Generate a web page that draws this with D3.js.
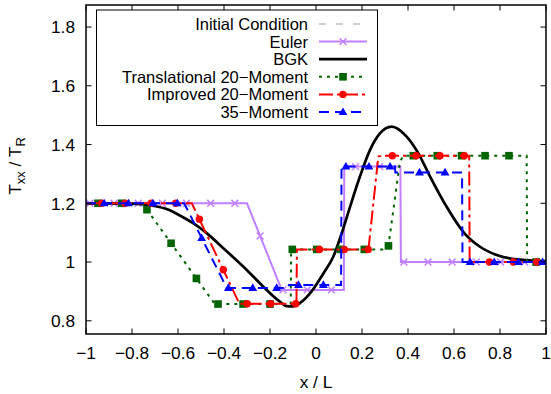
<!DOCTYPE html>
<html><head><meta charset="utf-8">
<script src="https://cdn.jsdelivr.net/npm/d3@7"></script>
<style>
html,body{margin:0;padding:0;background:#fff;}
svg{display:block;font-family:"Liberation Sans",Arial,sans-serif;}
</style></head>
<body><svg id="c" width="551" height="394"></svg>
<script>
// ---- data ----
const xTicks = [-1,-0.8,-0.6,-0.4,-0.2,0,0.2,0.4,0.6,0.8,1];
const xTickLabels = ["\u22121","\u22120.8","\u22120.6","\u22120.4","\u22120.2","0","0.2","0.4","0.6","0.8","1"];
const yTicks = [0.8,1,1.2,1.4,1.6,1.8];
const yTickLabels = ["0.8","1","1.2","1.4","1.6","1.8"];
const seriesNames = ["Initial Condition","Euler","BGK","Translational 20\u2212Moment","Improved 20\u2212Moment","35\u2212Moment"];

// initial condition: not visible inside the plot window of the reference
const initX = [];
const initY = [];

const eulerX = [-1,-0.30,-0.149,0.121,0.123,0.367,0.369,1];
const eulerY = [1.2,1.2,0.905,0.905,1.325,1.325,1.0,1.0];
const eulerMarkX = [-0.983,-0.878,-0.773,-0.668,-0.563,-0.458,-0.353,-0.243,-0.143,-0.038,0.067,0.172,0.277,0.382,0.487,0.592,0.697,0.802,0.907];

const bgkX = [-1,-0.9,-0.8,-0.72,-0.638,-0.591,-0.536,-0.478,-0.403,-0.301,-0.229,-0.157,-0.128,-0.1,-0.07,-0.026,0.032,0.075,0.112,0.148,0.191,0.235,0.278,0.329,0.394,0.445,0.496,0.568,0.64,0.713,0.786,0.873,1];
const bgkY = [1.2,1.2,1.199,1.193,1.177,1.158,1.133,1.1,1.047,0.973,0.916,0.865,0.85,0.849,0.86,0.893,0.961,1.018,1.098,1.188,1.291,1.382,1.438,1.461,1.427,1.37,1.291,1.188,1.103,1.052,1.024,1.009,1.003];

const t20X = [-1,-0.755,-0.44,-0.11,-0.108,0.29,0.315,0.365,0.38,0.916,0.918,1];
const t20Y = [1.2,1.2,0.857,0.857,1.043,1.043,1.055,1.342,1.362,1.362,1.0,1.0];
const t20MarkX = [-0.948,-0.845,-0.735,-0.63,-0.52,-0.426,-0.317,-0.2,-0.103,0.003,0.107,0.21,0.315,0.423,0.527,0.633,0.735,0.839,0.957];

const i20X = [-1,-0.54,-0.333,-0.085,-0.083,0.228,0.271,0.285,0.666,0.668,1];
const i20Y = [1.2,1.2,0.858,0.858,1.043,1.043,1.359,1.362,1.362,1.0,1.0];
const i20MarkX = [-0.932,-0.83,-0.717,-0.61,-0.507,-0.403,-0.299,-0.197,-0.088,0.015,0.123,0.227,0.332,0.435,0.539,0.645,0.754,0.858,0.96];

const m35X = [-1,-0.573,-0.388,-0.12,-0.118,0.109,0.111,0.343,0.345,0.635,0.637,1];
const m35Y = [1.2,1.2,0.912,0.912,0.922,0.922,1.325,1.325,1.305,1.305,1.0,1.0];
const m35MarkX = [-0.921,-0.815,-0.709,-0.603,-0.497,-0.381,-0.275,-0.171,-0.076,0.032,0.13,0.23,0.322,0.45,0.561,0.67,0.775,0.88,0.985];

// ---- layout ----
const W = 551, H = 394;
const m = {left:86, right:5, top:5, bottom:60};
const svg = d3.select("#c");
const x = d3.scaleLinear().domain([-1,1]).range([m.left, W-m.right]);
const y = d3.scaleLinear().domain([0.755,1.875]).range([H-m.bottom, m.top]);
const FS = 17.3;
const LFS = 16.5;

const zip = (a,b)=>a.map((v,i)=>[v,b[i]]);
function interp(xs, ys, xv){
  for(let i=0;i<xs.length-1;i++){
    if(xv>=xs[i] && xv<=xs[i+1]){
      const t = xs[i+1]===xs[i]?0:(xv-xs[i])/(xs[i+1]-xs[i]);
      return ys[i]+t*(ys[i+1]-ys[i]);
    }
  }
  return ys[ys.length-1];
}

const styles = [
  {name:seriesNames[0], xs:initX, ys:initY, color:"#c0c0c0", w:1.6, dash:"7,10", marker:null},
  {name:seriesNames[1], xs:eulerX, ys:eulerY, color:"#c080ff", w:2, dash:null, marker:"x", mx:eulerMarkX},
  {name:seriesNames[2], xs:bgkX, ys:bgkY, color:"#000000", w:2.7, dash:null, marker:null, smooth:true},
  {name:seriesNames[3], xs:t20X, ys:t20Y, color:"#006400", w:2, dash:"3,5", marker:"square", mx:t20MarkX},
  {name:seriesNames[4], xs:i20X, ys:i20Y, color:"#ff0000", w:2, dash:"14,4,3,4", marker:"circle", mx:i20MarkX},
  {name:seriesNames[5], xs:m35X, ys:m35Y, color:"#0000ff", w:2, dash:"10,6", marker:"triangle", mx:m35MarkX}
];

svg.append("clipPath").attr("id","pc").append("rect")
  .attr("x",m.left).attr("y",m.top).attr("width",W-m.left-m.right).attr("height",H-m.top-m.bottom);

function drawMarker(g, type, cx, cy, color){
  if(type==="x"){
    const s=3.4;
    g.append("path").attr("d",`M${cx-s},${cy-s}L${cx+s},${cy+s}M${cx-s},${cy+s}L${cx+s},${cy-s}`)
      .attr("stroke",color).attr("stroke-width",1.5).attr("fill","none");
  } else if(type==="square"){
    g.append("rect").attr("x",cx-3.8).attr("y",cy-3.8).attr("width",7.6).attr("height",7.6).attr("fill",color);
  } else if(type==="circle"){
    g.append("circle").attr("cx",cx).attr("cy",cy).attr("r",3.7).attr("fill",color);
  } else if(type==="triangle"){
    g.append("path").attr("d",d3.symbol().type(d3.symbolTriangle).size(34)()).attr("transform",`translate(${cx},${cy+0.5})`).attr("fill",color);
  }
}

const plotG = svg.append("g").attr("clip-path","url(#pc)");
styles.forEach(s=>{
  if(!s.xs.length) return;
  const line = d3.line().x(d=>x(d[0])).y(d=>y(d[1]));
  if(s.smooth) line.curve(d3.curveMonotoneX);
  const g = plotG.append("g");
  g.append("path").datum(zip(s.xs,s.ys)).attr("d",line).attr("fill","none")
    .attr("stroke",s.color).attr("stroke-width",s.w).attr("stroke-dasharray",s.dash)
    .attr("stroke-linejoin","miter");
  if(s.marker){
    s.mx.forEach(xv=>drawMarker(g, s.marker, x(xv), y(interp(s.xs,s.ys,xv)), s.color));
  }
});

// frame + ticks
const tl = 5.5;
const axG = svg.append("g").attr("stroke","#000").attr("stroke-width",1);
xTicks.forEach(t=>{
  axG.append("line").attr("x1",x(t)).attr("x2",x(t)).attr("y1",H-m.bottom).attr("y2",H-m.bottom-tl);
  axG.append("line").attr("x1",x(t)).attr("x2",x(t)).attr("y1",m.top).attr("y2",m.top+tl);
});
yTicks.forEach(t=>{
  axG.append("line").attr("x1",m.left).attr("x2",m.left+tl).attr("y1",y(t)).attr("y2",y(t));
  axG.append("line").attr("x1",W-m.right).attr("x2",W-m.right-tl).attr("y1",y(t)).attr("y2",y(t));
});
svg.append("rect").attr("x",m.left).attr("y",m.top).attr("width",W-m.left-m.right).attr("height",H-m.top-m.bottom)
  .attr("fill","none").attr("stroke","#000").attr("stroke-width",1.5);

// tick labels
svg.append("g").selectAll("text").data(xTicks).join("text")
  .attr("x",d=>x(d)).attr("y",359).attr("text-anchor","middle").attr("font-size",FS)
  .text((d,i)=>xTickLabels[i]);
svg.append("g").selectAll("text").data(yTicks).join("text")
  .attr("x",75).attr("y",d=>y(d)).attr("dy","0.36em").attr("text-anchor","end").attr("font-size",FS)
  .text((d,i)=>yTickLabels[i]);

// axis titles
svg.append("text").attr("x",x(0)).attr("y",388).attr("text-anchor","middle").attr("font-size",FS).text("x / L");
const yl = svg.append("text").attr("transform","translate(21,166) rotate(-90)").attr("text-anchor","middle").attr("font-size",FS);
yl.append("tspan").text("T");
yl.append("tspan").attr("font-size",FS*0.75).attr("dy",4).text("xx");
yl.append("tspan").attr("dy",-4).text(" / T");
yl.append("tspan").attr("font-size",FS*0.75).attr("dy",4).text("R");

// legend
const lg = svg.append("g");
lg.append("rect").attr("x",96.5).attr("y",10).attr("width",281).attr("height",115.5)
  .attr("fill","#fff").attr("stroke","#000").attr("stroke-width",1);
styles.forEach((s,i)=>{
  const cy = 24 + i*17.6;
  lg.append("text").attr("x",308).attr("y",cy).attr("dy","0.36em").attr("text-anchor","end").attr("font-size",LFS).text(s.name);
  lg.append("line").attr("x1",319).attr("x2",367).attr("y1",cy).attr("y2",cy)
    .attr("stroke",s.color).attr("stroke-width",s.w).attr("stroke-dasharray",s.dash);
  if(s.marker) drawMarker(lg, s.marker, 343, cy, s.color);
});
</script></body></html>
